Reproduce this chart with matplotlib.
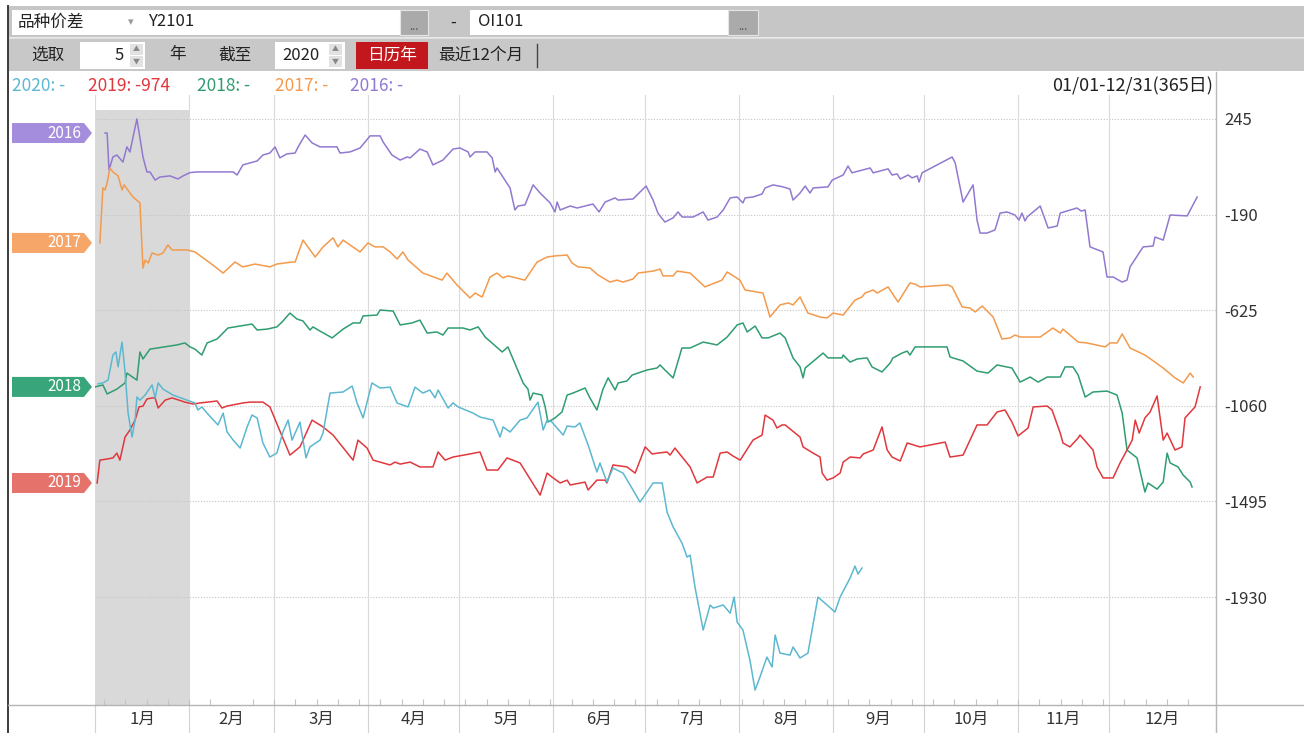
import numpy as np
import matplotlib.pyplot as plt
from matplotlib.patches import Rectangle, Polygon
from matplotlib.lines import Line2D

plt.rcParams['font.family'] = ['Noto Sans CJK SC', 'DejaVu Sans']

W, H = 1304, 733

# day of year (Jan 1 = 0) and spread values
days_2016 = [3.3, 4, 4.6, 5.9, 7.2, 9.2, 10.5, 11.5, 13.8, 15.8, 17.1, 18.1, 19.8, 21.4, 24.7, 27.3, 29, 31.3, 33.6, 45.5,
             46.8, 48.7, 51, 53.4, 55.3, 57.6, 59.3, 60.9, 63.2, 65.9, 66.9, 69.2, 71.5, 74.1, 79.7, 80.7, 84, 87.3, 90.6, 93.9,
             94.9, 97.8, 100.5, 102.8, 103.8, 107, 109.4, 111.3, 114.6, 117.9, 120.2, 122.9, 123.5, 125.2, 129.1, 130.8, 131.8, 132.4, 136.7, 138.3,
             139.3, 141.6, 144.3, 146.6, 149.9, 151.5, 152.2, 153.2, 156.5, 158.8, 164, 166, 168, 171.3, 172.3, 177.2, 181.5, 183.8, 185.4, 186.1,
             187.7, 190.4, 192, 193.4, 197, 200.3, 201.9, 204.9, 206.9, 209.2, 211.5, 213.4, 214.1, 216.7, 219.7, 220.7, 223.3, 226.6, 228.9, 229.9,
             232.2, 233.9, 235.5, 236.5, 241.4, 242.8, 246.4, 248, 249.3, 255.3, 256.3, 261.2, 262.5, 264.2, 265.2, 267.8, 269.1, 270.8, 271.4, 272.4,
             282.3, 283.3, 285.9, 289.2, 290.5, 291.5, 293.8, 296.4, 298.1, 300.4, 303, 304.3, 305.3, 306.3, 307, 311.3, 313.9, 316.9, 317.9, 323.4,
             324.8, 326.1, 327.7, 332, 333.3, 335.3, 338.3, 339.9, 340.9, 345.2, 348.5, 349.1, 351.8, 354.1, 359.7, 363]
vals_2016 = [181, 181, 13, 72, 81, 49, 118, 95, 245, 72, 4, 4, -33, -19, -14, -28, -14, 1, 4, 4,
             -10, 36, 45, 54, 81, 90, 118, 68, 86, 90, 118, 172, 136, 118, 118, 90, 95, 113, 168, 168,
             140, 81, 58, 72, 68, 108, 95, 36, 58, 108, 113, 95, 72, 95, 95, 68, 4, 22, -69, -169,
             -151, -146, -55, -92, -137, -178, -133, -169, -151, -160, -142, -178, -133, -114, -124, -119, -60, -124, -183, -196,
             -224, -205, -178, -201, -201, -178, -215, -201, -169, -114, -110, -137, -114, -110, -96, -69, -55, -64, -74, -124,
             -92, -60, -92, -69, -64, -33, -10, 31, 0, 22, 0, 18, -10, -5, -28, -10, -23, -14, -42, 0,
             72, 45, -133, -55, -215, -274, -274, -260, -183, -178, -192, -215, -183, -219, -201, -151, -251, -242, -183, -160,
             -174, -169, -337, -360, -474, -474, -497, -488, -428, -337, -333, -292, -306, -192, -196, -110]

days_2017 = [1.6, 2.6, 3.3, 4, 4.9, 5.9, 7.6, 8.9, 9.6, 12.5, 14.8, 15.8, 16.5, 17.5, 18.8, 20.8, 22.4, 24, 25.4, 30.3,
             32.9, 37.9, 42.2, 46.1, 48.7, 52.7, 57.6, 59.9, 64.9, 65.9, 68.5, 72.5, 75.1, 78.4, 80, 81.7, 87.3, 89.9, 92.2, 94.9,
             97.2, 99.5, 101.4, 103.1, 108, 114.3, 115.9, 119.2, 123.5, 125.2, 127.5, 130.1, 132.4, 134.4, 136, 141.6, 145.6, 148.9, 151.5, 155.5,
             157.1, 159.1, 163, 165.7, 169.6, 171.9, 173.9, 177.2, 178.9, 183.8, 186.1, 187.1, 190.4, 191.7, 196, 200.9, 204.9, 206.5, 208.2, 212.4,
             214.1, 220, 222.3, 225.6, 228.3, 229.9, 232.2, 234.8, 238.8, 241.1, 243.1, 246.4, 250.3, 252.6, 253.6, 256.3, 257.6, 261.2, 264.5, 268.4,
             270.1, 271.7, 281, 282.3, 285.6, 288.2, 289.9, 292.2, 295.8, 298.7, 301.4, 303, 304.7, 311.3, 315.5, 317.9, 318.8, 323.8, 326.7, 332.7,
             334.3, 336.6, 338.3, 340.9, 345.8, 349.1, 351.8, 355.7, 358.4, 360.7, 361.7]
vals_2017 = [-319, -69, -78, -46, 22, 4, -14, -78, -55, -110, -137, -433, -397, -410, -365, -374, -365, -328, -351, -351,
             -360, -410, -456, -406, -428, -415, -428, -415, -406, -406, -306, -383, -337, -296, -337, -306, -360, -319, -337, -337,
             -360, -392, -360, -397, -456, -488, -456, -510, -569, -547, -565, -474, -456, -478, -469, -488, -406, -383, -378, -374,
             -410, -428, -433, -465, -497, -488, -497, -483, -456, -447, -438, -469, -469, -447, -456, -519, -497, -488, -451, -488,
             -533, -547, -656, -601, -592, -601, -565, -638, -656, -660, -638, -647, -579, -565, -547, -533, -547, -519, -588, -501,
             -506, -519, -510, -519, -610, -615, -633, -606, -656, -756, -751, -738, -747, -747, -706, -729, -711, -770, -774, -792,
             -774, -774, -733, -797, -829, -861, -888, -933, -956, -911, -929]

days_2018 = [0, 2.6, 4, 7.2, 9.9, 10.5, 13.8, 14.8, 15.8, 18.1, 20.4, 24.7, 27, 29.6, 31.3, 32.9, 35.2, 36.9, 40.2, 43.8,
             47.8, 51.7, 53.4, 56.7, 59.9, 61.6, 64.2, 66.5, 68.5, 70.8, 71.8, 74.1, 78.1, 81.7, 85, 87.3, 88.3, 92.9, 93.9, 98.2,
             100.5, 104.4, 107, 109.4, 112.6, 114.6, 116.3, 121.2, 123.5, 126.2, 128.5, 134.1, 136, 141, 142.6, 143.3, 144.3, 147.2, 148.2, 149.2,
             151.5, 153.8, 155.5, 157.4, 161.4, 163, 165.3, 167.3, 169, 171.3, 172.3, 175.2, 176.9, 181.8, 185.1, 186.1, 187.7, 190.4, 193.3, 196,
             200.3, 204.9, 208.2, 211.5, 213.4, 214.8, 217.4, 219.7, 221.7, 225.6, 227.3, 229.9, 232.2, 233.2, 233.9, 239.8, 241.4, 246, 246.4, 248.7,
             251, 254.3, 255.9, 259.2, 261.9, 262.8, 265.8, 267.5, 268.4, 270.1, 280.6, 281.6, 285.9, 290.5, 294.1, 297.1, 302, 304.7, 308, 310.6,
             313.6, 317.9, 319.5, 322.1, 323.8, 326.1, 328.7, 333.3, 336.6, 338.3, 339.9, 343.2, 345.8, 346.8, 349.8, 351.8, 353.1, 354.1, 356.7, 358.4,
             360.7, 361.3]
vals_2018 = [-974, -965, -1006, -984, -956, -911, -943, -815, -847, -802, -797, -788, -783, -774, -792, -802, -829, -774, -756, -706,
             -697, -688, -715, -711, -701, -679, -638, -665, -674, -715, -701, -720, -751, -711, -683, -683, -651, -647, -624, -629,
             -692, -683, -670, -729, -724, -738, -706, -706, -715, -701, -747, -815, -792, -956, -984, -1034, -1002, -1011, -1061, -1134,
             -1115, -1088, -1011, -1002, -979, -1024, -1079, -984, -933, -988, -956, -947, -920, -897, -888, -874, -897, -933, -797, -797,
             -770, -783, -747, -692, -683, -724, -697, -751, -751, -729, -751, -842, -883, -933, -888, -820, -842, -842, -829, -861,
             -847, -842, -883, -906, -865, -842, -820, -811, -829, -792, -792, -838, -856, -902, -911, -874, -888, -952, -929, -952,
             -929, -929, -883, -883, -920, -1020, -997, -993, -1011, -1093, -1261, -1297, -1452, -1411, -1439, -1407, -1275, -1320, -1338, -1375,
             -1407, -1429]

days_2019 = [0.7, 1.6, 4, 5.9, 7.2, 8.2, 9.9, 11.5, 13.2, 14.5, 15.8, 17.1, 18.8, 19.8, 20.8, 23.1, 25.4, 29.6, 32.3, 34.6,
             40.2, 41.8, 43.5, 48.7, 51.1, 55.3, 57.6, 64.2, 67.5, 71.5, 75.1, 78.4, 85, 86.6, 89.6, 91.6, 94.9, 97.2, 98.8, 100.5,
             103.8, 107, 111.3, 113, 115.3, 117.9, 123.5, 126.8, 129.1, 132.7, 135.7, 140, 146.6, 148.9, 150.5, 153.2, 155.5, 156.5, 161.4, 162.4,
             165.3, 168, 168.6, 170.6, 175.2, 177.9, 181.2, 183.5, 185.4, 188.4, 189.4, 191, 196, 198.3, 201.6, 203.6, 205.9, 208.2, 210.1, 212.5,
             216.7, 219.7, 220.7, 223.3, 224.6, 226.3, 227.3, 232.2, 233.2, 236.5, 238.8, 239.5, 241.1, 243.1, 245.4, 246.4, 248.7, 252, 253, 256.3,
             259.2, 260.9, 262.5, 265.2, 267.5, 271.7, 280, 281.6, 285.9, 290.5, 293.8, 297.1, 299.7, 302, 304, 307.3, 309, 313.6, 315.2, 317.9,
             318.8, 321.1, 323.8, 324.4, 328.7, 330, 332, 335.3, 337.6, 339.9, 341.6, 342.6, 343.9, 345.8, 347.5, 349.8, 351.8, 353.1, 355.7, 358,
             359, 362.3, 364]
vals_2019 = [-1411, -1307, -1302, -1297, -1275, -1307, -1202, -1170, -1125, -1065, -1061, -1029, -1024, -1024, -1070, -1034, -1024, -1043, -1052, -1047,
             -1038, -1070, -1061, -1047, -1043, -1043, -1065, -1284, -1247, -1125, -1156, -1193, -1307, -1216, -1252, -1307, -1320, -1329, -1316, -1325,
             -1316, -1338, -1338, -1270, -1307, -1293, -1279, -1270, -1352, -1352, -1297, -1320, -1466, -1366, -1384, -1411, -1398, -1420, -1407, -1443,
             -1398, -1398, -1411, -1329, -1338, -1366, -1247, -1279, -1275, -1270, -1284, -1252, -1338, -1411, -1384, -1384, -1275, -1270, -1288, -1307,
             -1216, -1193, -1102, -1125, -1161, -1147, -1147, -1202, -1247, -1275, -1293, -1366, -1398, -1388, -1366, -1316, -1293, -1297, -1279, -1261,
             -1156, -1261, -1293, -1311, -1229, -1247, -1225, -1293, -1284, -1147, -1147, -1088, -1079, -1134, -1197, -1161, -1065, -1061, -1079, -1184,
             -1229, -1247, -1206, -1193, -1261, -1338, -1388, -1388, -1320, -1261, -1216, -1125, -1184, -1115, -1088, -1015, -1216, -1184, -1261, -1247,
             -1115, -1065, -974]

days_2020 = [1, 2.6, 4.3, 5.9, 6.9, 7.6, 8.9, 9.9, 10.9, 12.2, 13.2, 13.8, 14.8, 16.5, 18.8, 19.8, 20.8, 22.4, 25.7, 30.3,
             32.9, 33.9, 35.2, 36.9, 40.5, 42.2, 43.5, 45.5, 47.8, 50.1, 51.7, 53.4, 55.3, 57.6, 59.9, 61.9, 63.6, 64.9, 67.5, 69.5,
             70.8, 74.1, 75.1, 77.4, 81.7, 84.7, 86.3, 88.3, 91.2, 93.9, 97.2, 99.5, 103.1, 105.4, 108, 110.3, 112, 113, 116.3, 117.9,
             119.6, 124.5, 126.8, 131.1, 133.4, 134.4, 136.7, 140, 142.3, 145.9, 147.6, 148.9, 150.5, 154.2, 155.5, 158.1, 159.7, 162.4, 165.3, 166.3,
             168.6, 170.6, 173.9, 177.2, 179.5, 181.8, 183.8, 186.8, 188.4, 190.4, 193.3, 195, 196, 197.6, 200.3, 202.6, 203.6, 206.9, 209.2, 210.5,
             211.5, 213.4, 215.7, 217.4, 219, 221.3, 223, 224, 225.6, 228.9, 229.9, 232.2, 234.8, 238.1, 241.1, 243.7, 245.4, 248.7, 250.3, 251.3,
             252.6]
vals_2020 = [-960, -956, -943, -829, -815, -883, -770, -906, -1093, -1202, -1125, -1020, -1034, -1011, -965, -1024, -956, -984, -1011, -1034,
             -1047, -1079, -1065, -1093, -1147, -1093, -1179, -1216, -1252, -1156, -1102, -1115, -1229, -1293, -1275, -1179, -1125, -1216, -1134, -1297,
             -1247, -1216, -1184, -1002, -997, -970, -1047, -1115, -956, -979, -975, -1047, -1065, -975, -1002, -988, -1024, -988, -1070, -1047,
             -1065, -1093, -1111, -1125, -1202, -1156, -1179, -1125, -1115, -1043, -1170, -1125, -1134, -1193, -1152, -1156, -1138, -1238, -1361, -1320,
             -1407, -1343, -1366, -1443, -1498, -1452, -1411, -1411, -1543, -1611, -1684, -1748, -1739, -1884, -2080, -1966, -1980, -1966, -2003, -1930,
             -2044, -2080, -2217, -2353, -2294, -2203, -2248, -2103, -2185, -2194, -2157, -2207, -2185, -1930, -1966, -1998, -1930, -1843, -1789, -1825,
             -1798]

years = [2020, 2019, 2018, 2017, 2016]
legend_values = ['-', '-974', '-', '-', '-']
line_colors = {2020: '#5cb8d0', 2019: '#e0383d', 2018: '#2f9d70', 2017: '#f39a4c', 2016: '#9279d0'}
tag_colors = {2016: '#a48ddc', 2017: '#f7a66a', 2018: '#38a57b', 2019: '#e5726b'}
series = {2016: (days_2016, vals_2016), 2017: (days_2017, vals_2017), 2018: (days_2018, vals_2018),
          2019: (days_2019, vals_2019), 2020: (days_2020, vals_2020)}

month_names = ['1月', '2月', '3月', '4月', '5月', '6月', '7月', '8月', '9月', '10月', '11月', '12月']
month_starts = [0, 31, 59, 90, 120, 151, 181, 212, 243, 273, 304, 334]
y_ticks = [245, -190, -625, -1060, -1495, -1930]
x_end = 369.2
y_low, y_high = -2421, 354

fig = plt.figure(figsize=(W / 100, H / 100), dpi=100)


def fx(x):
    return x / W


def fy(y):
    return 1 - y / H


def box(x, y, w, h, color, ec='none'):
    fig.add_artist(Rectangle((fx(x), fy(y + h)), w / W, h / H, transform=fig.transFigure,
                             facecolor=color, edgecolor=ec, lw=0.8 if ec != 'none' else 0))


def hline(x0, x1, y, color, lw=1.0):
    fig.add_artist(Line2D([fx(x0), fx(x1)], [fy(y), fy(y)], transform=fig.transFigure, color=color, lw=lw))


def vline(x, y0, y1, color, lw=1.0):
    fig.add_artist(Line2D([fx(x), fx(x)], [fy(y0), fy(y1)], transform=fig.transFigure, color=color, lw=lw))


def label(x, y, s, **kw):
    kw.setdefault('fontsize', 12)
    kw.setdefault('color', '#222222')
    fig.text(fx(x), fy(y), s, va='center', **kw)


# toolbar
box(8, 6, 1296, 31, '#c6c6c6')
box(8, 38, 1296, 33, '#c8c8c8')
hline(8, 1304, 37.5, '#e4e4e4', 1.2)
box(12, 10, 388, 25, 'white')
label(18, 22, '品种价差')
label(128, 22, '▾', fontsize=8, color='#999999')
label(148, 22, 'Y2101')
box(400, 10, 28, 25, '#aaaaaa', ec='#e6e6e6')
label(414, 27, '...', fontsize=8, color='#555555', ha='center')
label(450, 22, '-')
box(470, 10, 258, 25, 'white')
label(478, 22, 'OI101')
box(728, 10, 30, 25, '#aaaaaa', ec='#e6e6e6')
label(743, 27, '...', fontsize=8, color='#555555', ha='center')

label(48, 55, '选取', ha='center')
box(80, 42, 65, 27, 'white')
label(124, 55, '5', ha='right')
box(130, 44, 13, 11, '#e2e2e2')
box(130, 56, 13, 11, '#e2e2e2')
label(136.5, 49.5, '▲', fontsize=5, color='#888888', ha='center')
label(136.5, 61.5, '▼', fontsize=5, color='#888888', ha='center')
label(178, 55, '年', ha='center')
label(235, 55, '截至', ha='center')
box(275, 42, 70, 27, 'white')
label(320, 55, '2020', ha='right')
box(329, 44, 13, 11, '#e2e2e2')
box(329, 56, 13, 11, '#e2e2e2')
label(335.5, 49.5, '▲', fontsize=5, color='#888888', ha='center')
label(335.5, 61.5, '▼', fontsize=5, color='#888888', ha='center')
box(356, 42, 72, 27, '#c2171d')
label(392, 55, '日历年', ha='center', color='white')
label(438, 55, '最近12个月')
vline(537, 44, 67, '#444444', 1.0)

# legend row
legend_x = [12, 88, 197, 275, 350]
for x, yr, val in zip(legend_x, years, legend_values):
    label(x, 86, f'{yr}: {val}', color=line_colors[yr], fontsize=12.5)
label(1213, 86, '01/01-12/31(365日)', ha='right', fontsize=13)

# frame lines
vline(8, 6, 733, '#3a3a3a', 1.4)
vline(1216, 72, 733, '#b8b8b8', 1.0)
hline(8, 1304, 705, '#b4b4b4', 1.0)

# plot area
ax = fig.add_axes([fx(95), fy(705), (1216 - 95) / W, (705 - 95) / H])
ax.set_xlim(0, x_end)
ax.set_ylim(y_low, y_high)
for s in ax.spines.values():
    s.set_visible(False)
ax.patch.set_alpha(0)

ax.axvspan(month_starts[0], month_starts[1], ymin=0, ymax=(286 - y_low) / (y_high - y_low),
           color='#d9d9d9', lw=0, zorder=0)
for v in y_ticks:
    ax.axhline(v, color='#c4c4c4', lw=0.8, ls=(0, (1, 1.5)), zorder=1)
for m in month_starts:
    ax.axvline(m, color='#dadada', lw=0.8, zorder=1)
for m in month_starts + [x_end]:
    ax.plot([m, m], [0, -28 / 610], transform=ax.get_xaxis_transform(), clip_on=False,
            color='#d2d2d2', lw=0.8)

ax.yaxis.tick_right()
ax.set_yticks(y_ticks, [str(v) for v in y_ticks])
ax.tick_params(axis='y', length=0, pad=6, labelsize=12, labelcolor='#333333')

bounds = month_starts + [x_end]
centers = [(a + b) / 2 for a, b in zip(bounds[:-1], bounds[1:])]
ax.set_xticks(centers, month_names)
ax.set_xticks(np.arange(3, 365, 7), minor=True)
ax.tick_params(axis='x', which='major', length=0, pad=4, labelsize=12, labelcolor='#333333')
ax.tick_params(axis='x', which='minor', direction='in', length=4, color='#c4c4c4', width=0.8)

for yr in [2016, 2017, 2018, 2019, 2020]:
    d, v = series[yr]
    ax.plot(d, v, color=line_colors[yr], lw=1.1, zorder=3)

# year tags at each series' first value
inv = fig.transFigure.inverted()
for yr in [2016, 2017, 2018, 2019]:
    d, v = series[yr]
    yf = inv.transform(ax.transData.transform((0, v[0])))[1]
    hh = 10 / H
    poly = [(fx(12), yf - hh), (fx(84), yf - hh), (fx(92), yf), (fx(84), yf + hh), (fx(12), yf + hh)]
    fig.add_artist(Polygon(poly, closed=True, transform=fig.transFigure, facecolor=tag_colors[yr], edgecolor='none'))
    fig.text(fx(81), yf, str(yr), color='white', fontsize=11, ha='right', va='center')

fig.savefig('out.png', dpi=100)
